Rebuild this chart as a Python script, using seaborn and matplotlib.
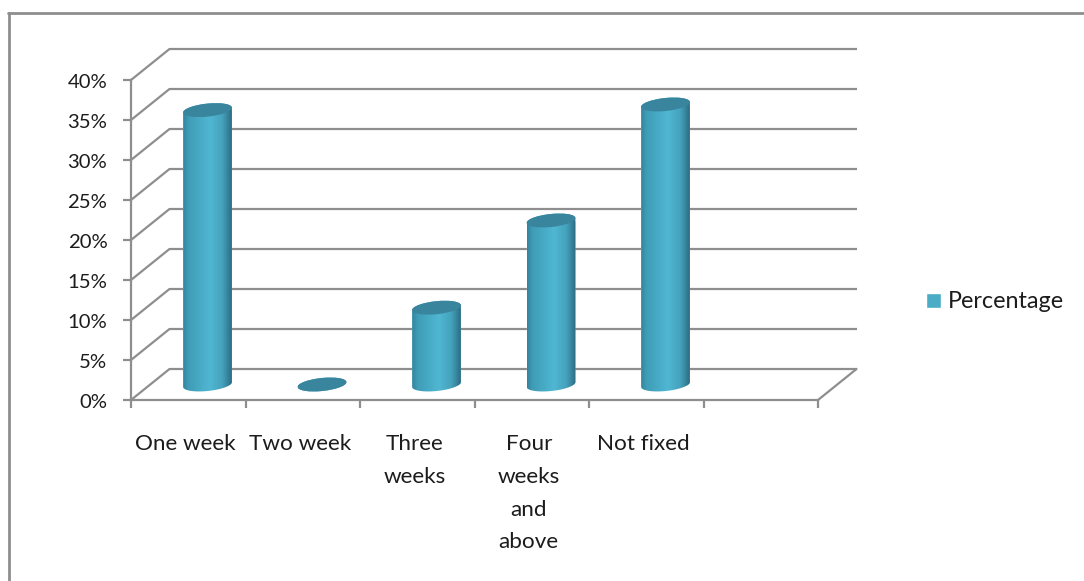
import numpy as np
import matplotlib
matplotlib.use("Agg")
import matplotlib.pyplot as plt
import seaborn as sns
from matplotlib.colors import LinearSegmentedColormap
from matplotlib.lines import Line2D
from matplotlib.patches import Ellipse
from matplotlib.path import Path
from matplotlib.transforms import Affine2D, IdentityTransform

# Duration categories and their shares (percent)
durations = ["One week", "Two week", "Three\nweeks", "Four\nweeks\nand\nabove", "Not fixed"]
shares = [34.3, 0, 9.6, 20.5, 35]
series_name = "Percentage"
percent_ticks = [0, 5, 10, 15, 20, 25, 30, 35, 40]

GRID = "#8e8e8e"
TEXT = "#1c1c1c"
SWATCH = "#4bacc6"
CAP = "#39859d"
DEPTH_X, DEPTH_Y = 38.5, 31.0   # pixel shift between front and back plane
CAP_H, CAP_TILT = 13.0, 6.0

sns.set_theme(style="white")
plt.rcParams["font.family"] = ["Lato", "DejaVu Sans"]

W, H = 1084, 581
fig = plt.figure(figsize=(W / 100, H / 100), dpi=100, facecolor="white")
ax = fig.add_axes([131 / W, (H - 400) / H, 687 / W, 320 / H])
ax.patch.set_alpha(0)


def plane(frac):
    """Data transform pushed back by a fraction of the chart depth."""
    return ax.transData + Affine2D().translate(DEPTH_X * frac, DEPTH_Y * frac)


sns.barplot(x=durations, y=shares, color=SWATCH, saturation=1, width=49 / 114.5,
            label=series_name, ax=ax, zorder=3)
ax.set_xlim(-0.5, 5.5)
ax.set_ylim(0, 40)

# Back wall grid and the slanted side lines
for p in percent_ticks:
    ax.plot([-0.5, 5.5], [p, p], color=GRID, lw=1.6, transform=plane(1),
            clip_on=False, zorder=1, solid_capstyle="butt")
    x0, y0 = ax.transData.transform((-0.5, p))
    ax.plot([x0, x0 + DEPTH_X], [y0, y0 + DEPTH_Y], color=GRID, lw=1.6,
            transform=IdentityTransform(), clip_on=False, zorder=1)
x0, y0 = ax.transData.transform((5.5, 0))
ax.plot([x0, x0 + DEPTH_X], [y0, y0 + DEPTH_Y], color=GRID, lw=1.6,
        transform=IdentityTransform(), clip_on=False, zorder=1)

# Cylinder shading across the body of each bar
shade = LinearSegmentedColormap.from_list(
    "cylinder",
    [(0.0, "#34859f"), (0.12, "#3f9db7"), (0.55, "#50b7d3"),
     (0.8, "#45a3bd"), (1.0, "#2c6c82")],
)
ramp = np.linspace(0, 1, 256).reshape(1, -1)
mid_plane = plane(0.5)

theta_low = np.linspace(np.pi, 2 * np.pi, 40)
theta_high = np.linspace(0, np.pi, 40)

for bar in ax.patches:
    bar.set_transform(mid_plane)
    value = bar.get_height()
    left, width = bar.get_x(), bar.get_width()
    centre = left + width / 2
    (xb, yb) = mid_plane.transform((centre, 0))
    (xt, yt) = mid_plane.transform((centre, value))
    rx = abs(mid_plane.transform((left + width, 0))[0] - xb)
    ry = CAP_H / 2
    tilt = np.deg2rad(CAP_TILT)

    def rim(t, cx, cy):
        ex, ey = rx * np.cos(t), ry * np.sin(t)
        return np.column_stack([cx + ex * np.cos(tilt) - ey * np.sin(tilt),
                                cy + ex * np.sin(tilt) + ey * np.cos(tilt)])

    outline = Path(np.vstack([rim(theta_low, xb, yb), rim(theta_high, xt, yt)]), closed=False)
    bar.set_clip_path(outline, IdentityTransform())
    bar.set_clip_on(True)
    body = ax.imshow(ramp, cmap=shade, aspect="auto", zorder=3.5,
                     extent=(left, left + width, -3, value + 3),
                     transform=mid_plane)
    body.set_clip_path(outline, IdentityTransform())
    ax.add_patch(Ellipse((xt, yt), 2 * rx, CAP_H, angle=CAP_TILT, facecolor=CAP,
                         edgecolor="none", transform=IdentityTransform(),
                         zorder=4, clip_on=False))

ax.set_xlim(-0.5, 5.5)
ax.set_ylim(0, 40)

# Axes, ticks and labels
for side in ("top", "right"):
    ax.spines[side].set_visible(False)
for side in ("left", "bottom"):
    ax.spines[side].set_color(GRID)
    ax.spines[side].set_linewidth(1.6)

ax.set_yticks(percent_ticks)
ax.set_yticklabels([f"{p}%" for p in percent_ticks])
ax.tick_params(axis="y", length=6, width=1.6, color=GRID, pad=11, labelsize=14.6,
               labelcolor=TEXT, left=True)
for label in ax.get_yticklabels():
    label.set_transform(label.get_transform() + Affine2D().translate(0, -1))
ax.set_xticks(range(len(durations)))
ax.set_xticklabels(durations, linespacing=1.8, ma="center")
ax.tick_params(axis="x", which="major", length=0, pad=24.5, labelsize=16.2, labelcolor=TEXT)
ax.set_xticks(np.arange(-0.5, 6), minor=True)
ax.tick_params(axis="x", which="minor", length=6, width=1.6, color=GRID, bottom=True)
for label in ax.get_xticklabels():
    label.set_transform(label.get_transform() + Affine2D().translate(-3, 0))

# Legend to the right of the plot
ax.legend(loc="center left", bbox_to_anchor=((926 - 131) / 687, (581 - 302 - 181) / 320),
          frameon=False, fontsize=16.8, labelcolor=TEXT, handlelength=0.65,
          handleheight=0.65, handletextpad=0.3, borderpad=0, borderaxespad=0)

# Outer chart frame: only the top and left edges fall inside the canvas
fig.add_artist(Line2D([8.5 / W, 8.5 / W], [0, (H - 12.5) / H], color=GRID, lw=2))
fig.add_artist(Line2D([7.5 / W, 1], [(H - 12.5) / H, (H - 12.5) / H], color=GRID, lw=2))

ax.set_xlabel("")
ax.set_ylabel("")
fig.savefig("out.png", dpi=100, facecolor="white")
